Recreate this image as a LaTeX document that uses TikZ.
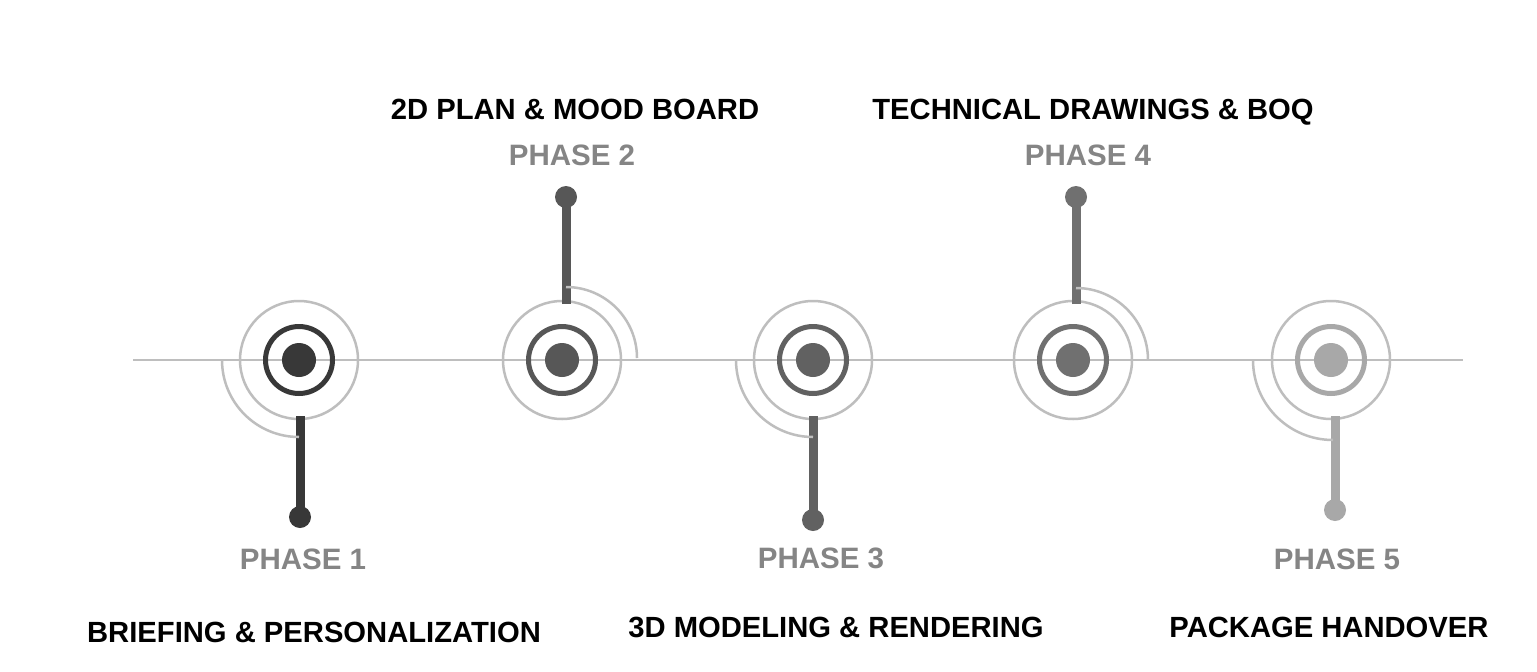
\documentclass[tikz,border=0pt]{standalone}
\usepackage{fontspec}
\setmainfont{Liberation Sans}
\definecolor{cA}{HTML}{383838}
\definecolor{cB}{HTML}{575757}
\definecolor{cC}{HTML}{616161}
\definecolor{cD}{HTML}{707070}
\definecolor{cE}{HTML}{A8A8A8}
\definecolor{lightg}{HTML}{BEBEBE}
\definecolor{phaseg}{HTML}{858585}
\begin{document}
\begin{tikzpicture}[x=1pt,y=-1pt,
  core/.style={circle,fill=#1,draw=none,minimum size=34pt,inner sep=0pt},
  ring/.style={circle,draw=#1,line width=5pt,minimum size=67pt,inner sep=0pt},
  halo/.style={circle,draw=lightg,line width=2.5pt,minimum size=118pt,inner sep=0pt},
  enddot/.style={circle,fill=#1,minimum size=22pt,inner sep=0pt},
  stem/.style={draw=#1,line width=9pt},
  guide/.style={draw=lightg,line width=2.5pt},
  phaselbl/.style={anchor=base,inner sep=0pt,text=phaseg,font=\bfseries\fontsize{29.5}{31}\selectfont},
  titlelbl/.style={anchor=base,inner sep=0pt,text=black,font=\bfseries\fontsize{29.2}{31}\selectfont}
]
\useasboundingbox (0,0) rectangle (1537,672);
\fill[white] (0,0) rectangle (1537,672);
% baseline
\coordinate (L) at (133,360);
\coordinate (R) at (1463,360);
\draw[guide] (L) -- (R);

% node 1
\node[halo] (o1) at (299,360) {};
\node[ring=cA] (r1) at (299,360) {};
\node[core=cA] (c1) at (299,360) {};
\node[enddot=cA] (d1) at (300,517) {};
\draw[stem=cA] (300,416) -- (d1.center);
\draw[guide] (222,360) arc[start angle=180,end angle=90,radius=77];

% node 2
\node[halo] (o2) at (562,360) {};
\node[ring=cB] (r2) at (562,360) {};
\node[core=cB] (c2) at (562,360) {};
\node[enddot=cB] (d2) at (566,197) {};
\draw[stem=cB] (566,304) -- (d2.center);
\draw[guide] (566,287) arc[start angle=-90,end angle=0,radius=71];

% node 3
\node[halo] (o3) at (813,360) {};
\node[ring=cC] (r3) at (813,360) {};
\node[core=cC] (c3) at (813,360) {};
\node[enddot=cC] (d3) at (813,520) {};
\draw[stem=cC] (813,416) -- (d3.center);
\draw[guide] (736,360) arc[start angle=180,end angle=90,radius=77];

% node 4
\node[halo] (o4) at (1073,360) {};
\node[ring=cD] (r4) at (1073,360) {};
\node[core=cD] (c4) at (1073,360) {};
\node[enddot=cD] (d4) at (1076,197) {};
\draw[stem=cD] (1076,304) -- (d4.center);
\draw[guide] (1076,288) arc[start angle=-90,end angle=0,radius=72];

% node 5
\node[halo] (o5) at (1331,360) {};
\node[ring=cE] (r5) at (1331,360) {};
\node[core=cE] (c5) at (1331,360) {};
\node[enddot=cE] (d5) at (1335,510) {};
\draw[stem=cE] (1335,416) -- (d5.center);
\draw[guide] (1253,360) arc[start angle=180,end angle=90,radius=80];

% labels
\node[phaselbl] (p1) at (303,569) {PHASE 1};
\node[titlelbl] (t1) at (314,642) {BRIEFING \& PERSONALIZATION};
\node[phaselbl] (p2) at (572,165) {PHASE 2};
\node[titlelbl] (t2) at (575,119) {2D PLAN \& MOOD BOARD};
\node[phaselbl] (p3) at (821,568) {PHASE 3};
\node[titlelbl] (t3) at (836,637) {3D MODELING \& RENDERING};
\node[phaselbl] (p4) at (1088,165) {PHASE 4};
\node[titlelbl] (t4) at (1093,119) {TECHNICAL DRAWINGS \& BOQ};
\node[phaselbl] (p5) at (1337,569) {PHASE 5};
\node[titlelbl] (t5) at (1329,637) {PACKAGE HANDOVER};
\end{tikzpicture}
\end{document}
